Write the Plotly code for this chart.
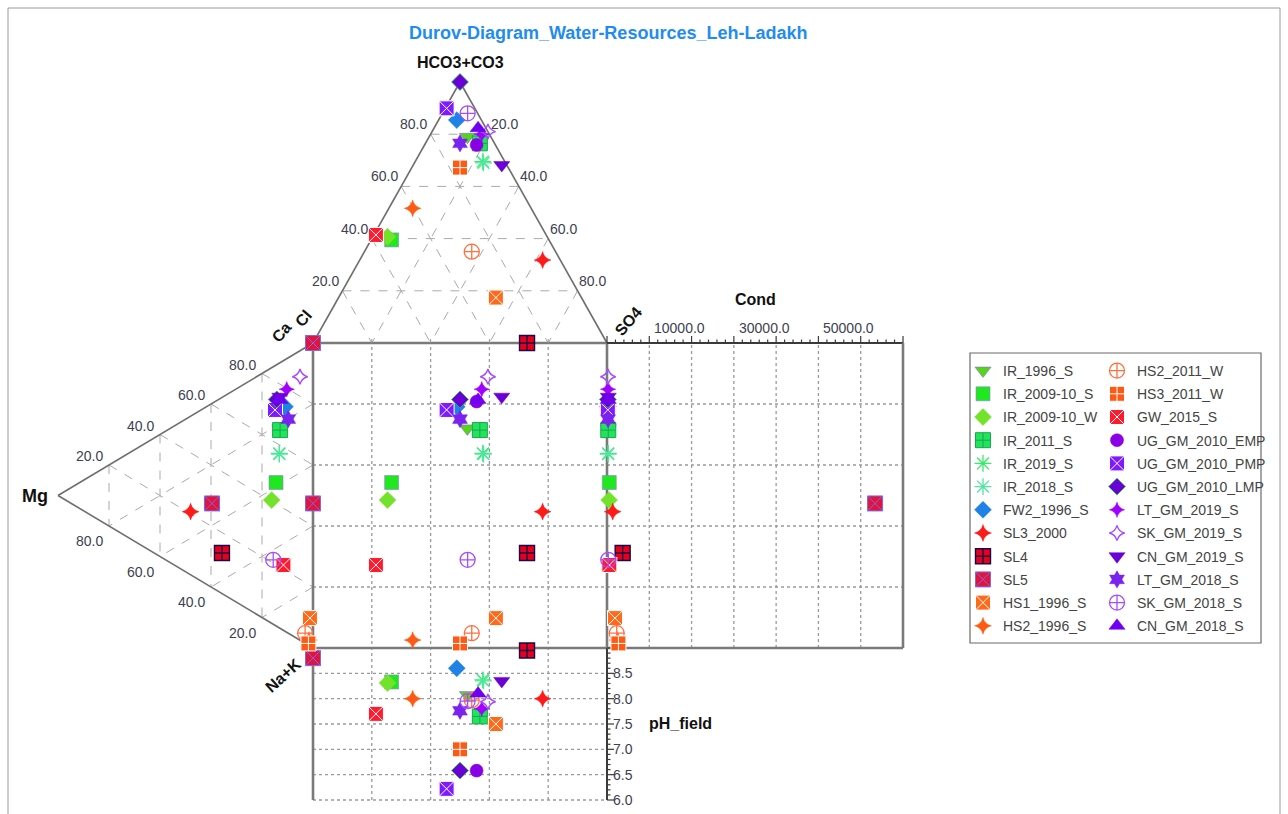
import plotly.graph_objects as go

# ---------------------------------------------------------------------------
# Sample data: anion / cation milliequivalent percentages, field pH, conductivity
# ---------------------------------------------------------------------------
names = ["IR_1996_S", "IR_2009-10_S", "IR_2009-10_W", "IR_2011_S", "IR_2019_S",
         "IR_2018_S", "FW2_1996_S", "SL3_2000", "SL4", "SL5", "HS1_1996_S",
         "HS2_1996_S", "HS2_2011_W", "HS3_2011_W", "GW_2015_S", "UG_GM_2010_EMP",
         "UG_GM_2010_PMP", "UG_GM_2010_LMP", "LT_GM_2019_S", "SK_GM_2019_S",
         "CN_GM_2019_S", "LT_GM_2018_S", "SK_GM_2018_S", "CN_GM_2018_S"]

hco3 = [79.0, 39.5, 40.7, 76.5, 69.5, 69.0, 85.4, 31.8, 0.0, 0.0, 17.4, 51.6,
        35.0, 67.2, 41.4, 75.9, 89.9, 100.0, 80.0, 81.0, 68.2, 76.5, 88.0, 82.3]
cl = [8.0, 53.5, 54.3, 5.0, 7.5, 7.5, 8.4, 6.0, 27.2, 100.0, 29.1, 40.3,
      28.5, 16.4, 57.9, 6.4, 9.6, 0.0, 2.6, 0.0, 1.7, 11.75, 3.4, 2.7]
so4 = [13.0, 7.0, 5.0, 18.5, 23.0, 23.5, 6.2, 62.2, 72.8, 0.0, 53.5, 8.1,
       36.5, 16.4, 0.7, 17.7, 0.5, 0.0, 17.4, 19.0, 30.1, 11.75, 8.6, 15.0]

ca = [65.5, 47.0, 40.4, 65.0, 57.2, 57.0, 73.6, 20.7, 13.3, 27.6, 9.2, 1.8,
      3.3, 0.6, 21.4, 73.7, 70.6, 74.4, 79.7, 86.4, 75.9, 70.2, 21.1, 74.9]
mg = [13.0, 14.5, 16.2, 12.9, 13.2, 13.2, 11.0, 48.0, 35.7, 39.6, 1.2, 1.6,
      3.1, 1.8, 11.6, 14.2, 14.9, 14.2, 10.3, 5.1, 13.0, 9.7, 15.6, 12.9]
nak = [21.5, 38.5, 43.4, 22.1, 29.6, 29.8, 15.4, 31.3, 51.0, 32.8, 89.6, 96.6,
       93.6, 97.6, 67.0, 12.1, 14.5, 11.4, 10.0, 8.5, 11.1, 20.1, 63.3, 12.2]

ph_field = [8.07, 8.33, 8.31, 7.65, 8.37, 8.35, 8.60, 8.00, 8.95, 8.80, 7.50, 8.00,
            7.97, 7.00, 7.70, 6.58, 6.22, 6.58, 7.80, 7.94, 8.35, 7.76, 7.95, 8.10]
cond = [300, 540, 500, 300, 280, 300, 200, 1350, 3700, 63400, 1900, 2500,
        2300, 2700, 550, 200, 200, 200, 250, 250, 300, 250, 300, 300]

# tick values
tri_ticks = [20, 40, 60, 80]
cond_ticks = [10000, 30000, 50000]
ph_ticks = [6.0, 6.5, 7.0, 7.5, 8.0, 8.5]

# ---------------------------------------------------------------------------
# Marker styles per series
# ---------------------------------------------------------------------------
styles = {
    "IR_1996_S":      dict(symbol="triangle-down", color="#55d41a", line="#8a6adf", lw=0.6, size=14),
    "IR_2009-10_S":   dict(symbol="square", color="#1fe81f", line="#9a7ae0", lw=0.6, size=14),
    "IR_2009-10_W":   dict(symbol="diamond", color="#72e22a", line="#72e22a", lw=0.5, size=13),
    "IR_2011_S":      dict(symbol="square-cross", color="#22e35c", line="#17a84a", lw=1.0, size=15),
    "IR_2019_S":      dict(symbol="asterisk-open", color="#33ee66", line="#33ee66", lw=1.3, size=14),
    "IR_2018_S":      dict(symbol="asterisk-open", color="#4ee6a0", line="#4ee6a0", lw=1.3, size=14),
    "FW2_1996_S":     dict(symbol="diamond", color="#1e82e6", line="#1e82e6", lw=0.5, size=13),
    "SL3_2000":       dict(symbol="star-diamond", color="#ff1a1a", line="#ff1a1a", lw=0.5, size=12),
    "SL4":            dict(symbol="square-cross", color="#e6001e", line="#1a0a45", lw=1.4, size=15),
    "SL5":            dict(symbol="square-x", color="#e0143c", line="#7b68ee", lw=1.0, size=15),
    "HS1_1996_S":     dict(symbol="square-x", color="#ff6a1a", line="#ffffff", lw=1.0, size=15),
    "HS2_1996_S":     dict(symbol="star-diamond", color="#ff5a14", line="#ff5a14", lw=0.5, size=12),
    "HS2_2011_W":     dict(symbol="circle-cross-open", color="#ff7040", line="#ff7040", lw=1.3, size=15),
    "HS3_2011_W":     dict(symbol="square-cross", color="#ff5a14", line="#ffffff", lw=1.0, size=15),
    "GW_2015_S":      dict(symbol="square-x", color="#ff1a2e", line="#ffffff", lw=1.0, size=15),
    "UG_GM_2010_EMP": dict(symbol="circle", color="#8a00e6", line="#8a00e6", lw=0.5, size=13),
    "UG_GM_2010_PMP": dict(symbol="square-x", color="#7f1aff", line="#ffffff", lw=1.0, size=15),
    "UG_GM_2010_LMP": dict(symbol="diamond", color="#6a00d5", line="#22cc44", lw=0.8, size=13),
    "LT_GM_2019_S":   dict(symbol="star-diamond", color="#a000ff", line="#a000ff", lw=0.5, size=11),
    "SK_GM_2019_S":   dict(symbol="star-diamond-open", color="#a64dff", line="#a64dff", lw=1.4, size=11),
    "CN_GM_2019_S":   dict(symbol="triangle-down", color="#6a00d5", line="#6a00d5", lw=0.5, size=14),
    "LT_GM_2018_S":   dict(symbol="hexagram", color="#7a22ee", line="#7a22ee", lw=0.5, size=13),
    "SK_GM_2018_S":   dict(symbol="circle-cross-open", color="#a64dff", line="#a64dff", lw=1.3, size=15),
    "CN_GM_2018_S":   dict(symbol="triangle-up", color="#7000ee", line="#7000ee", lw=0.5, size=14),
}

# ---------------------------------------------------------------------------
# Diagram geometry (square = 0..100 in both directions)
# ---------------------------------------------------------------------------
PX_X, PX_Y = 2.94, 3.05            # pixels per unit
HT = 261 / PX_Y                    # height of the anion triangle
WL = 255 / PX_X                    # width of the cation triangle
WC = 296 / PX_X                    # width of the conductivity panel
HP = 152 / PX_Y                    # height of the pH panel
COND_MAX = 70000.0
PH_TOP, PH_BOT = 9.0, 6.0

A_APEX = (50.0, 100.0 + HT)        # HCO3+CO3
A_CL = (0.0, 100.0)                # Cl
A_SO4 = (100.0, 100.0)             # SO4
C_CA = (0.0, 100.0)                # Ca
C_MG = (-WL, 50.0)                 # Mg
C_NA = (0.0, 0.0)                  # Na+K


def bary(p1, p2, p3, w1, w2, w3):
    t = w1 + w2 + w3
    return ((p1[0] * w1 + p2[0] * w2 + p3[0] * w3) / t,
            (p1[1] * w1 + p2[1] * w2 + p3[1] * w3) / t)


def ph_to_y(v):
    return -(PH_TOP - v) / (PH_TOP - PH_BOT) * HP


def cond_to_x(v):
    return 100.0 + v / COND_MAX * WC


fig = go.Figure()

GRID_TRI = dict(color="#aaaaaa", width=1, dash="dash")
GRID_SQ = dict(color="#9a9a9a", width=1.3, dash="dot")
EDGE = dict(color="#6e6e6e", width=1.6)
FRAME = dict(color="#7a7a7a", width=2.6)
DARK = dict(color="#3a3a3a", width=2)

shapes = []


def seg(x0, y0, x1, y1, style, layer="below"):
    shapes.append(dict(type="line", xref="x", yref="y", x0=x0, y0=y0, x1=x1, y1=y1,
                       line=style, layer=layer))


# ternary grids
for lv in tri_ticks:
    r = 100 - lv
    # anion triangle
    seg(*bary(A_APEX, A_CL, A_SO4, lv, r, 0), *bary(A_APEX, A_CL, A_SO4, lv, 0, r), GRID_TRI)
    seg(*bary(A_APEX, A_CL, A_SO4, r, lv, 0), *bary(A_APEX, A_CL, A_SO4, 0, lv, r), GRID_TRI)
    seg(*bary(A_APEX, A_CL, A_SO4, r, 0, lv), *bary(A_APEX, A_CL, A_SO4, 0, r, lv), GRID_TRI)
    # cation triangle
    seg(*bary(C_CA, C_MG, C_NA, lv, r, 0), *bary(C_CA, C_MG, C_NA, lv, 0, r), GRID_TRI)
    seg(*bary(C_CA, C_MG, C_NA, r, lv, 0), *bary(C_CA, C_MG, C_NA, 0, lv, r), GRID_TRI)
    seg(*bary(C_CA, C_MG, C_NA, r, 0, lv), *bary(C_CA, C_MG, C_NA, 0, r, lv), GRID_TRI)

# square grid, extended into the pH and conductivity panels
for lv in tri_ticks:
    seg(lv, ph_to_y(PH_BOT), lv, 100, GRID_SQ)
    seg(0, lv, 100 + WC, lv, GRID_SQ)
for k in range(1, 7):
    seg(cond_to_x(k * 10000), 0, cond_to_x(k * 10000), 100, GRID_SQ)
for v in ph_ticks[1:]:
    seg(0, ph_to_y(v), 100, ph_to_y(v), GRID_SQ)
seg(0, ph_to_y(PH_BOT), 100, ph_to_y(PH_BOT), GRID_SQ)

# triangle outlines
seg(*A_CL, *A_APEX, EDGE)
seg(*A_APEX, *A_SO4, EDGE)
seg(*C_CA, *C_MG, EDGE)
seg(*C_MG, *C_NA, EDGE)

# square and panel frames
seg(0, 0, 0, 100, FRAME)
seg(0, 100, 100, 100, FRAME)
seg(0, 0, 100, 0, FRAME)
seg(100, 0, 100, 100, FRAME)
seg(0, ph_to_y(PH_BOT), 0, 0, FRAME)
seg(100, ph_to_y(PH_BOT), 100, 0, DARK)
seg(100, 100, 100 + WC, 100, DARK)
seg(100 + WC, 0, 100 + WC, 100, FRAME)
seg(100, 0, 100 + WC, 0, FRAME)

# conductivity ruler ticks
TICK = dict(color="#3a3a3a", width=1.2)
for k in range(0, 36):
    v = k * 2000
    if v > COND_MAX:
        break
    h = (7 if v % 10000 == 0 else 3.5) / PX_Y
    seg(cond_to_x(v), 100, cond_to_x(v), 100 + h, TICK)
# pH ruler ticks
for k in range(0, 31):
    v = PH_BOT + k * 0.1
    w = (7 if k % 5 == 0 else 3.5) / PX_X
    seg(100, ph_to_y(v), 100 + w, ph_to_y(v), TICK)
# small ticks on top of the square
for lv in tri_ticks:
    seg(lv, 100, lv, 100 + 4 / PX_Y, dict(color="#9a9a9a", width=1))

# ---------------------------------------------------------------------------
# Sample markers: anion point, cation point, square, conductivity, pH
# ---------------------------------------------------------------------------
for i, n in enumerate(names):
    ax, ay = bary(A_APEX, A_CL, A_SO4, hco3[i], cl[i], so4[i])
    cx, cy = bary(C_CA, C_MG, C_NA, ca[i], mg[i], nak[i])
    xs = [ax, cx, ax, cond_to_x(cond[i]), ax]
    ys = [ay, cy, cy, cy, ph_to_y(ph_field[i])]
    st = styles[n]
    fig.add_trace(go.Scatter(
        x=xs, y=ys, mode="markers", name=n,
        legend="legend" if i < 12 else "legend2",
        legendgroup=n,
        marker=dict(symbol=st["symbol"], size=st["size"], color=st["color"],
                    line=dict(color=st["line"], width=st["lw"])),
        cliponaxis=False,
    ))

# ---------------------------------------------------------------------------
# Text
# ---------------------------------------------------------------------------
annotations = []
TICK_FONT = dict(family="Arial, Liberation Sans", size=14, color="#404050")
LBL_FONT = dict(family="Arial, Liberation Sans", size=16, color="#111111")


def text(x, y, s, font, dx=0, dy=0, xanchor="center", yanchor="middle", angle=0):
    annotations.append(dict(x=x, y=y, xref="x", yref="y", text=s, showarrow=False,
                            font=font, xshift=dx, yshift=dy, xanchor=xanchor,
                            yanchor=yanchor, textangle=angle))


for lv in tri_ticks:
    r = 100 - lv
    lab = f"{lv:.1f}"
    x, y = bary(A_APEX, A_CL, A_SO4, lv, r, 0)          # HCO3 scale on left edge
    text(x, y, lab, TICK_FONT, dx=-17, dy=10)
    x, y = bary(A_APEX, A_CL, A_SO4, r, 0, lv)          # SO4 scale on right edge
    text(x, y, lab, TICK_FONT, dx=15, dy=10)
    x, y = bary(C_CA, C_MG, C_NA, lv, r, 0)             # Ca scale on upper edge
    text(x, y, lab, TICK_FONT, dx=-20, dy=9)
    x, y = bary(C_CA, C_MG, C_NA, 0, lv, r)             # Mg scale on lower edge
    text(x, y, lab, TICK_FONT, dx=-20, dy=-15)

for v in cond_ticks:
    text(cond_to_x(v), 100, f"{v:.1f}", TICK_FONT, dx=3, dy=15, xanchor="left")
for v in ph_ticks:
    text(100, ph_to_y(v), f"{v:.1f}", TICK_FONT, dx=4, dy=0, xanchor="left")

text(*A_APEX, "<b>HCO3+CO3</b>", LBL_FONT, dy=20)
text(*A_CL, "<b>Cl</b>", LBL_FONT, dx=-10, dy=25, angle=-50)
text(*C_CA, "<b>Ca</b>", LBL_FONT, dx=-32, dy=11, angle=-50)
text(*A_SO4, "<b>SO4</b>", LBL_FONT, dx=21, dy=22, angle=-50)
text(*C_MG, "<b>Mg</b>", dict(LBL_FONT, size=18), dx=-23, dy=0)
text(*C_NA, "<b>Na+K</b>", LBL_FONT, dx=-30, dy=-27, angle=-42)
text(100 + WC / 2, 100, "<b>Cond</b>", LBL_FONT, dx=0, dy=44)
text(100, ph_to_y(7.5), "<b>pH_field</b>", LBL_FONT, dx=73, dy=1)

annotations.append(dict(x=608 / 1288, y=1 - 33 / 814, xref="paper", yref="paper",
                        xanchor="center", yanchor="middle",
                        text="<b>Durov-Diagram_Water-Resources_Leh-Ladakh</b>",
                        showarrow=False,
                        font=dict(family="Arial, Liberation Sans", size=18, color="#1e8cf0")))

# frame of the legend block and outer border
shapes.append(dict(type="rect", xref="paper", yref="paper",
                   x0=970 / 1288, x1=1261 / 1288, y0=1 - 643 / 814, y1=1 - 353 / 814,
                   line=dict(color="#6a6a6a", width=1.2), fillcolor="rgba(0,0,0,0)"))
shapes.append(dict(type="rect", xref="paper", yref="paper",
                   x0=8 / 1288, x1=1280 / 1288, y0=-0.05, y1=1 - 8 / 814,
                   line=dict(color="#9a9a9a", width=1), fillcolor="rgba(0,0,0,0)"))

LEG_FONT = dict(family="Arial, Liberation Sans", size=14, color="#444444")
fig.update_layout(
    width=1288, height=814,
    margin=dict(l=0, r=0, t=0, b=0),
    paper_bgcolor="white", plot_bgcolor="white",
    xaxis=dict(range=[-313 / PX_X, (1288 - 313) / PX_X], visible=False, fixedrange=True),
    yaxis=dict(range=[(648 - 814) / PX_Y, 648 / PX_Y], visible=False, fixedrange=True),
    shapes=shapes,
    annotations=annotations,
    showlegend=True,
    legend=dict(x=963 / 1288, y=1 - 355 / 814, xanchor="left", yanchor="top",
                font=LEG_FONT, bgcolor="rgba(0,0,0,0)", borderwidth=0,
                traceorder="grouped", tracegroupgap=2, itemsizing="trace"),
    legend2=dict(x=1097 / 1288, y=1 - 355 / 814, xanchor="left", yanchor="top",
                 font=LEG_FONT, bgcolor="rgba(0,0,0,0)", borderwidth=0,
                 traceorder="grouped", tracegroupgap=2, itemsizing="trace"),
)

fig.write_html("out.html")
